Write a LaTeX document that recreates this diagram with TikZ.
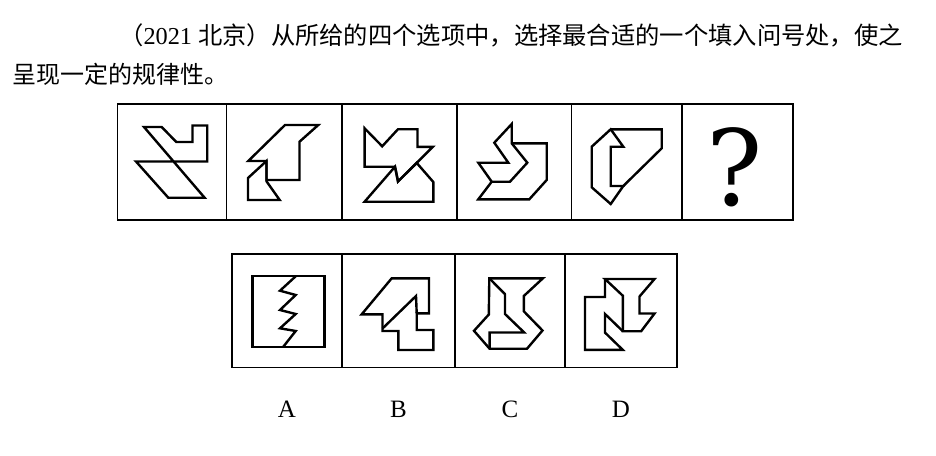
\documentclass[tikz,border=0pt]{standalone}
\usepackage{fontspec}
\setmainfont{Liberation Serif}
\newfontfamily\cjk{Noto Sans CJK SC}
\newfontfamily\qfont{DejaVu Serif}
\usepackage{xcolor}
\usepackage{tikz}

\begin{document}
\begin{tikzpicture}[x=1pt, y=-1pt,
    cell/.style={draw, line width=1.8pt},
    figline/.style={draw, line width=2.4pt},
    titletext/.style={anchor=base west, inner sep=0pt, font=\fontsize{24}{28}\selectfont},
    optlabel/.style={anchor=base, inner sep=0pt, font=\fontsize{25}{28}\selectfont}]
\useasboundingbox (0,0) rectangle (936,455);

\node[titletext, font=\fontsize{24.3}{28}\selectfont] (line_1) at (119.00,44.00) {{\cjk （}2021 {\cjk 北京）从所给的四个选项中，选择最合适的一个填入问号处，使之}};
\node[titletext] (line_2) at (12.00,83.00) {\cjk 呈现一定的规律性。};

% question row
\foreach \a/\b in {117.5/226.5, 226.5/342, 342/457, 457/571.5, 571.5/682, 682/793}
    \draw[cell] (\a,104) rectangle (\b,220);

\draw[figline] (144.00,127.00) -- (161.70,127.00) -- (176.30,142.00) -- (192.50,142.00)
    -- (192.50,125.50) -- (207.20,125.50) -- (207.20,161.50) -- (136.00,161.50)
    -- (168.30,197.70) -- (204.60,197.70) -- cycle;

\draw[figline] (248.30,161.00) -- (285.00,125.00) -- (318.30,125.00) -- (299.50,141.70)
    -- (299.50,180.00) -- (266.50,180.00) -- (266.50,161.00) -- cycle;
\draw[figline] (266.50,161.00) -- (248.00,178.00) -- (248.00,200.00) -- (279.70,200.00)
    -- (266.50,181.30) -- cycle;

\draw[figline] (364.60,128.30) -- (382.20,146.30) -- (398.00,129.20) -- (417.50,129.20)
    -- (417.50,146.80) -- (432.80,146.80) -- (398.00,181.50) -- (395.00,166.70)
    -- (364.60,166.70) -- cycle;
\draw[figline] (364.60,201.70) -- (433.30,201.70) -- (433.30,182.00) -- (416.70,162.90)
    -- (398.00,181.50) -- (395.00,166.70) -- cycle;

\draw[figline] (511.70,124.00) -- (494.30,142.70) -- (508.30,162.70) -- (478.30,162.70)
    -- (491.70,181.70) -- (510.00,181.70) -- (527.30,162.70) -- (511.70,143.30) -- cycle;
\draw[figline] (511.70,143.30) -- (546.70,143.30) -- (546.70,180.00) -- (529.30,199.30)
    -- (478.30,199.30) -- (491.70,181.70);

\draw[figline] (610.70,129.30) -- (591.70,146.70) -- (591.70,187.30) -- (610.70,204.00)
    -- (623.30,186.00) -- (610.70,186.00) -- (610.70,146.70) -- (623.30,146.70) -- cycle;
\draw[figline] (610.70,129.30) -- (661.70,129.30) -- (661.70,148.30) -- (623.30,186.00);

\node[anchor=base, inner sep=0pt, font=\fontsize{105}{105}\qfont] (qmark) at (735.00,205.00) {?};

% answer row
\foreach \a/\b in {232/342, 342/455, 455/565, 565/677}
    \draw[cell] (\a,254) rectangle (\b,367.5);

\draw[figline] (252.30,276.00) rectangle (324.30,346.70);
\draw[figline] (296.00,276.00) -- (280.00,290.70) -- (295.70,295.00) -- (280.00,310.00)
    -- (295.70,314.00) -- (280.00,328.30) -- (295.70,331.00) -- (283.30,346.70);

\draw[figline] (391.70,278.30) -- (429.00,278.30) -- (429.00,313.30) -- (416.70,313.30)
    -- (416.70,330.00) -- (433.30,330.00) -- (433.30,350.00) -- (398.30,350.00)
    -- (398.30,331.00) -- (382.50,331.00) -- (382.50,314.30) -- (361.70,314.30) -- cycle;
\draw[figline] (382.50,328.50) -- (416.00,296.00) -- (416.70,313.30);

\draw[figline] (489.30,278.30) -- (542.90,278.30) -- (523.80,296.00) -- (523.80,311.30)
    -- (542.50,330.50) -- (527.00,348.70) -- (489.60,348.70) -- (474.00,330.80)
    -- (488.80,314.50) -- cycle;
\draw[figline] (489.30,278.30) -- (505.00,294.20) -- (505.00,314.00) -- (524.20,332.50)
    -- (489.60,332.50) -- (489.60,348.70);

\draw[figline] (605.00,279.00) -- (654.50,279.00) -- (639.50,296.50) -- (639.50,313.50)
    -- (654.50,313.50) -- (641.20,331.20) -- (622.80,331.20) -- (622.80,295.70) -- cycle;
\draw[figline] (605.00,279.00) -- (605.00,297.00) -- (585.00,297.00) -- (585.00,349.80)
    -- (622.70,349.80) -- (605.00,332.60) -- (605.00,314.00) -- (622.80,331.20);

\node[optlabel] (opt_a) at (287.00,417.00) {A};
\node[optlabel] (opt_b) at (398.50,417.00) {B};
\node[optlabel] (opt_c) at (510.00,417.00) {C};
\node[optlabel] (opt_d) at (621.00,417.00) {D};

\end{tikzpicture}
\end{document}
